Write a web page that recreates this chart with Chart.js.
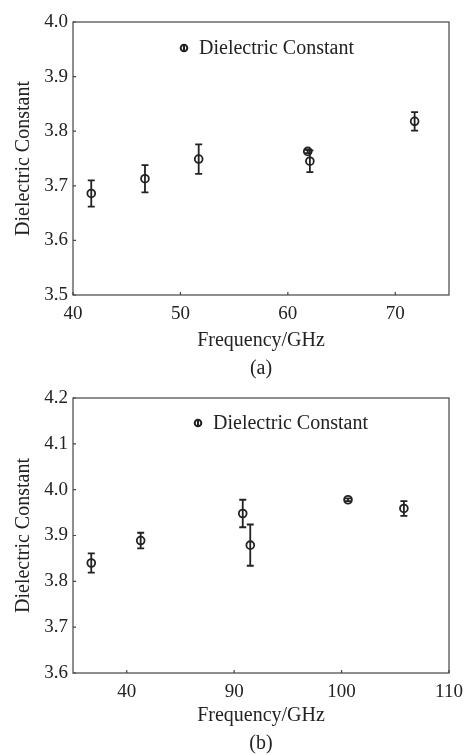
<!DOCTYPE html>
<html>
<head>
<meta charset="utf-8">
<script src="https://cdn.jsdelivr.net/npm/chart.js@4"></script>
<style>
  html, body { margin: 0; padding: 0; background: #fff; }
  canvas { display: block; }
</style>
</head>
<body>
<canvas id="chartA" width="471" height="380"></canvas>
<canvas id="chartB" width="471" height="375"></canvas>
<script>
// data
var seriesLabel = 'Dielectric Constant';

// (a)
var freqA = [41.7, 46.7, 51.7, 61.85, 62.05, 71.8];
var epsA = [3.686, 3.713, 3.749, 3.763, 3.745, 3.818];
var errA = [0.024, 0.025, 0.027, 0.003, 0.020, 0.017];
var xTicksA = [40, 50, 60, 70];
var xTickLabelsA = ['40', '50', '60', '70'];

// (b) - the original axis is labelled 40, 90, 100, 110
var freqB = [76.7, 81.3, 90.8, 91.5, 100.6, 105.8];
var epsB = [3.840, 3.889, 3.948, 3.879, 3.978, 3.959];
var errB = [0.021, 0.017, 0.030, 0.045, 0.003, 0.016];
var xTicksB = [80, 90, 100, 110];
var xTickLabelsB = ['40', '90', '100', '110'];

var ink = '#222';
var frame = '#444';
var serif = "'Liberation Serif', 'DejaVu Serif', serif";

// error bars, frame, inward ticks and the legend box
var decorPlugin = {
    id: 'decor',
    beforeDatasetsDraw: function(chart) {
        var ctx = chart.ctx;
        var xs = chart.scales.x, ys = chart.scales.y;
        var ds = chart.data.datasets[0];
        var errs = chart.options.plugins.decor.errors;
        ctx.save();
        ctx.strokeStyle = ink;
        ctx.lineWidth = 1.8;
        ds.data.forEach(function(p, i) {
            var x = xs.getPixelForValue(p.x);
            var yTop = ys.getPixelForValue(p.y + errs[i]);
            var yBot = ys.getPixelForValue(p.y - errs[i]);
            ctx.beginPath();
            ctx.moveTo(x, yTop); ctx.lineTo(x, yBot);
            ctx.moveTo(x - 3.5, yTop); ctx.lineTo(x + 3.5, yTop);
            ctx.moveTo(x - 3.5, yBot); ctx.lineTo(x + 3.5, yBot);
            ctx.stroke();
        });
        ctx.restore();
    },
    afterDraw: function(chart) {
        var ctx = chart.ctx;
        var a = chart.chartArea;
        var opts = chart.options.plugins.decor;
        ctx.save();
        // frame
        ctx.strokeStyle = frame;
        ctx.lineWidth = 1.2;
        ctx.strokeRect(a.left, a.top, a.right - a.left, a.bottom - a.top);
        // inward ticks
        ctx.beginPath();
        chart.scales.x.ticks.forEach(function(t) {
            var x = chart.scales.x.getPixelForValue(t.value);
            ctx.moveTo(x, a.bottom); ctx.lineTo(x, a.bottom - 3);
        });
        chart.scales.y.ticks.forEach(function(t) {
            var y = chart.scales.y.getPixelForValue(t.value);
            ctx.moveTo(a.left, y); ctx.lineTo(a.left + 3, y);
        });
        ctx.stroke();
        // legend
        var lx = opts.legendX, ly = opts.legendY;
        ctx.strokeStyle = ink;
        ctx.lineWidth = 2;
        ctx.beginPath();
        ctx.arc(lx, ly, 3.3, 0, Math.PI * 2);
        ctx.moveTo(lx, ly - 3.3); ctx.lineTo(lx, ly + 3.3);
        ctx.stroke();
        ctx.fillStyle = ink;
        ctx.font = '20px ' + serif;
        ctx.textBaseline = 'middle';
        ctx.fillText(chart.data.datasets[0].label, lx + 15, ly + 1);
        ctx.restore();
    }
};

function makeChart(id, freq, eps, errs, xMin, xMax, xTicks, xTickLabels, yMin, yMax, tag, xHeight, legendX, legendY, topPad) {
    var points = freq.map(function(f, i) { return { x: f, y: eps[i] }; });
    return new Chart(document.getElementById(id).getContext('2d'), {
        type: 'scatter',
        data: {
            datasets: [{
                label: seriesLabel,
                data: points,
                pointStyle: 'circle',
                pointRadius: 3.9,
                pointHoverRadius: 3.9,
                pointBorderWidth: 1.8,
                borderColor: ink,
                backgroundColor: 'rgba(0,0,0,0)'
            }]
        },
        options: {
            responsive: false,
            animation: false,
            devicePixelRatio: 1,
            layout: { padding: { left: 0, right: 22, top: topPad, bottom: 0 } },
            plugins: {
                legend: { display: false },
                tooltip: { enabled: false },
                decor: { errors: errs, legendX: legendX, legendY: legendY }
            },
            scales: {
                x: {
                    type: 'linear',
                    min: xMin,
                    max: xMax,
                    afterBuildTicks: function(scale) {
                        scale.ticks = xTicks.map(function(v) { return { value: v }; });
                    },
                    afterFit: function(scale) { scale.height = xHeight; },
                    grid: { display: false, drawTicks: false },
                    border: { display: false },
                    ticks: {
                        color: ink,
                        padding: 8,
                        maxRotation: 0,
                        font: { family: serif, size: 19 },
                        callback: function(v) {
                            var i = xTicks.indexOf(v);
                            return i >= 0 ? xTickLabels[i] : '';
                        }
                    },
                    title: {
                        display: true,
                        text: ['Frequency/GHz', tag],
                        color: ink,
                        font: { family: serif, size: 20, lineHeight: 1.4 },
                        padding: { top: 0, bottom: -3 }
                    }
                },
                y: {
                    min: yMin,
                    max: yMax,
                    afterFit: function(scale) { scale.width = 73; },
                    grid: { display: false, drawTicks: false },
                    border: { display: false },
                    ticks: {
                        color: ink,
                        padding: 5,
                        stepSize: 0.1,
                        font: { family: serif, size: 19 },
                        callback: function(v) { return v.toFixed(1); }
                    },
                    title: {
                        display: true,
                        text: 'Dielectric Constant',
                        color: ink,
                        font: { family: serif, size: 20 },
                        padding: { top: 12, bottom: 0 }
                    }
                }
            }
        },
        plugins: [decorPlugin]
    });
}

document.addEventListener('DOMContentLoaded', function() {
    makeChart('chartA', freqA, epsA, errA, 40, 75, xTicksA, xTickLabelsA, 3.5, 4.0, '(a)', 85, 184, 48, 22);
    makeChart('chartB', freqB, epsB, errB, 75, 110, xTicksB, xTickLabelsB, 3.6, 4.2, '(b)', 82, 198, 43, 18);
});
</script>
</body>
</html>
